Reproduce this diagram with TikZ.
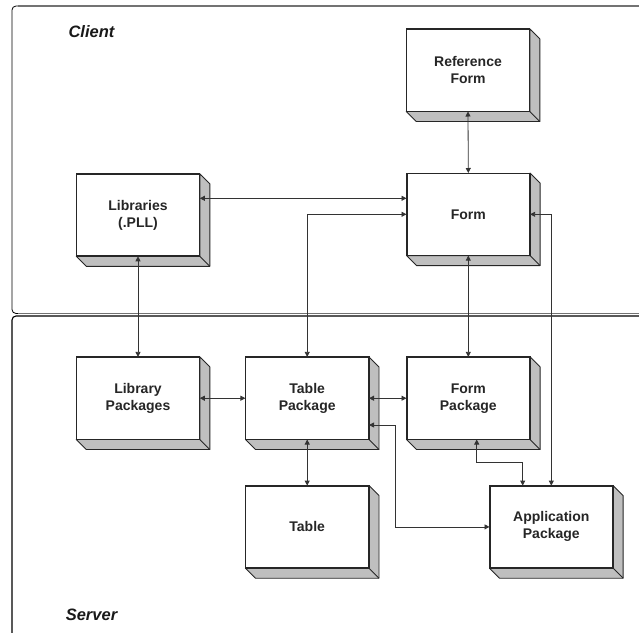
\documentclass[tikz,border=0pt]{standalone}
\usepackage{fontspec}
\setmainfont{Liberation Sans}
\usetikzlibrary{arrows.meta,calc}
\begin{document}
\begin{tikzpicture}[x=1pt,y=-1pt,
  box/.style={draw=black!85,line width=0.9pt,fill=white,rectangle,inner sep=0pt,
    minimum width=122.7pt,minimum height=81.7pt,align=center,
    font=\fontsize{14}{17}\selectfont\bfseries,text=black!85},
  shadowface/.style={fill=black!25,draw=black!85,line width=0.9pt,line join=round},
  conn/.style={draw=black!80,line width=0.8pt,{Triangle[length=5pt,width=5pt]}-{Triangle[length=5pt,width=5pt]}},
  region/.style={font=\fontsize{16.5}{19}\selectfont\bfseries\itshape,text=black!90}]
\useasboundingbox (0,0) rectangle (639,632);
\begin{scope}
\clip (0,0) rectangle (639,632);
% client frame
\draw[black,line width=0.8pt,rounded corners=4pt] (660,313.5) -- (12,313.5) -- (12,6) -- (660,6);
\draw[black!55,line width=1.6pt] (18,6) -- (660,6);
\draw[black!55,line width=1.4pt] (18,313.5) -- (660,313.5);
% server frame
\draw[black,line width=1.1pt,rounded corners=4pt] (12,660) -- (12,316) -- (660,316);
\end{scope}
\node[region] (client) at (91.5,32) {Client};
\node[region] (server) at (91.5,615) {Server};
% boxes
\node[box] (rf)   at (468,70.2)   {Reference\\Form};
\node[box] (form) at (468.3,214.3){Form};
\node[box] (lib)  at (138,215)    {Libraries\\(.PLL)};
\node[box] (libp) at (138,398.2)  {Library\\Packages};
\node[box] (tp)   at (307.2,398.2){Table\\Package};
\node[box] (fp)   at (468.3,398.2){Form\\Package};
\node[box] (tbl)  at (307.2,526.9){Table};
\node[box] (app)  at (551.3,526.9){Application\\Package};
\foreach \n in {rf,form,lib,libp,tp,fp,tbl,app}{
  \filldraw[shadowface] (\n.north east) -- ++(10,10) -- ($(\n.south east)+(10,10)$)
     -- ($(\n.south west)+(10,10)$) -- (\n.south west) -- (\n.south east) -- cycle;
  \draw[shadowface,fill=none] (\n.south east) -- ++(10,10);
  \draw[draw=black!85,line width=0.9pt] (\n.south west) rectangle (\n.north east);
}
% connectors
\draw[conn] (rf.south) -- (form.north);
\draw[conn] ([yshift=16.7pt]lib.east) -- ([yshift=16pt]form.west);
\draw[conn] (tp.north) |- (form.west);
\draw[conn] (form.south) -- (fp.north);
\draw[conn] (form.east) -| (app.north);
\draw[conn] (lib.south) -- (libp.north);
\draw[conn] (libp.east) -- (tp.west);
\draw[conn] (tp.east) -- (fp.west);
\draw[conn] (tp.south) -- (tbl.north);
\draw[conn] ([yshift=-26.8pt]tp.east) -- ++(26.8,0) |- (app.west);
\draw[conn] ([xshift=8.4pt]fp.south) -- ++(0,23.3) -| ([xshift=-28.6pt]app.north);
\end{tikzpicture}
\end{document}
